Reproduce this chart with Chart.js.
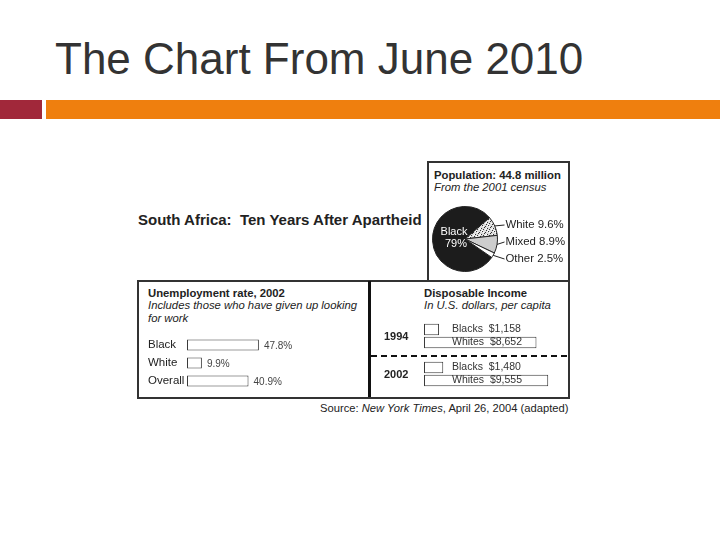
<!DOCTYPE html>
<html>
<head>
<meta charset="utf-8">
<title>The Chart From June 2010</title>
<script src="https://cdn.jsdelivr.net/npm/chart.js"></script>
<style>
  body { margin: 0; background: #fff; font-family: "Liberation Sans", Arial, Helvetica, sans-serif; color: #222; }
  #slide { position: relative; width: 720px; height: 540px; overflow: hidden; }
  .t { position: absolute; white-space: nowrap; line-height: 1; }
  .b { font-weight: bold; }
  .i { font-style: italic; }
  .box { position: absolute; box-sizing: border-box; border: 2px solid #333; }
  canvas { position: absolute; }
</style>
</head>
<body>
<div id="slide">
  <div class="t" style="left:55px;top:37px;font-size:44px;color:#333;">The Chart From June 2010</div>
  <div style="position:absolute;left:0;top:100px;width:42px;height:19px;background:#a1283a;"></div>
  <div style="position:absolute;left:46px;top:100px;width:674px;height:19px;background:#ef7f0e;"></div>

  <div class="t b" style="left:138px;top:212px;font-size:15px;">South Africa: &nbsp;Ten Years After Apartheid</div>

  <div class="box" style="left:427px;top:161px;width:143px;height:121px;"></div>
  <div class="box" style="left:137px;top:280px;width:433px;height:119px;"></div>
  <div style="position:absolute;left:368px;top:281px;width:3px;height:116px;background:#111;"></div>

  <div class="t b" style="left:434px;top:170px;font-size:11.3px;">Population: 44.8 million</div>
  <div class="t i" style="left:434px;top:182px;font-size:11.3px;">From the 2001 census</div>

  <div class="t b" style="left:148px;top:288px;font-size:11.3px;">Unemployment rate, 2002</div>
  <div class="t i" style="left:148px;top:300px;font-size:11.3px;">Includes those who have given up looking</div>
  <div class="t i" style="left:148px;top:313px;font-size:11.3px;">for work</div>

  <div class="t b" style="left:424px;top:288px;font-size:11.3px;">Disposable Income</div>
  <div class="t i" style="left:424px;top:300px;font-size:11.3px;">In U.S. dollars, per capita</div>

  <div class="t" style="left:320px;top:403px;font-size:11.2px;">Source: <span class="i">New York Times</span>, April 26, 2004 (adapted)</div>

  <canvas id="pie" width="140" height="85" style="left:428px;top:195px;"></canvas>
  <canvas id="jobs" width="229" height="54" style="left:140px;top:336px;"></canvas>
  <canvas id="income" width="198" height="76" style="left:371px;top:317px;"></canvas>
</div>

<script>
var popLabels = ["Black", "White", "Mixed", "Other"];
var popShares = [79, 9.6, 8.9, 2.5];

var jobGroups = ["Black", "White", "Overall"];
var jobRates = [47.8, 9.9, 40.9];

var incomeYears = ["1994", "2002"];
var incomeBlacks = [1158, 1480];
var incomeWhites = [8652, 9555];

var FONT = '"Liberation Sans", Arial, sans-serif';

// speckled fill for the "White" slice
function dotPattern() {
	var c = document.createElement("canvas");
	c.width = 6;
	c.height = 6;
	var g = c.getContext("2d");
	g.fillStyle = "#dcdcdc";
	g.fillRect(0, 0, 6, 6);
	g.fillStyle = "#333";
	var dots = [[0, 0], [3, 1], [5, 3], [1, 4], [4, 5], [2, 2]];
	dots.forEach(function (p) { g.fillRect(p[0], p[1], 1, 1); });
	g.fillStyle = "#fff";
	[[1, 1], [4, 3], [0, 5], [3, 4], [5, 0]].forEach(function (p) { g.fillRect(p[0], p[1], 1, 1); });
	return g.createPattern(c, "repeat");
}

var pieLabels = {
	id: "pieLabels",
	afterDatasetsDraw: function (chart) {
		var ctx = chart.ctx;
		var arcs = chart.getDatasetMeta(0).data;
		ctx.save();
		ctx.font = "11px " + FONT;
		ctx.textBaseline = "middle";
		ctx.textAlign = "center";
		ctx.fillStyle = "#fff";
		ctx.fillText(popLabels[0], arcs[0].x - 11, arcs[0].y - 7);
		ctx.fillText(popShares[0] + "%", arcs[0].x - 9, arcs[0].y + 5);

		ctx.textAlign = "left";
		ctx.font = "11.4px " + FONT;
		for (var i = 1; i < arcs.length; i++) {
			var arc = arcs[i];
			var mid = (arc.startAngle + arc.endAngle) / 2;
			var ex = arc.x + Math.cos(mid) * arc.outerRadius;
			var ey = arc.y + Math.sin(mid) * arc.outerRadius;
			var lx = arc.x + arc.outerRadius + 8;
			var ly = arc.y - 14 + (i - 1) * 17;
			ctx.strokeStyle = "#222";
			ctx.lineWidth = 1;
			ctx.beginPath();
			ctx.moveTo(ex, ey);
			ctx.lineTo(lx - 1, ly);
			ctx.stroke();
			ctx.fillStyle = "#222";
			ctx.fillText(popLabels[i] + " " + popShares[i] + "%", lx, ly);
		}
		ctx.restore();
	}
};

new Chart(document.getElementById("pie"), {
	type: "pie",
	data: {
		labels: popLabels,
		datasets: [{
			data: popShares,
			backgroundColor: ["#1c1c1c", dotPattern(), "#cdcdcd", "#ffffff"],
			borderColor: "#222",
			borderWidth: 1
		}]
	},
	options: {
		responsive: false,
		animation: false,
		rotation: 124.6,
		layout: { padding: { left: 4, top: 11, right: 70, bottom: 8 } },
		plugins: { legend: { display: false }, tooltip: { enabled: false } }
	},
	plugins: [pieLabels]
});

var jobLabels = {
	id: "jobLabels",
	afterDatasetsDraw: function (chart) {
		var ctx = chart.ctx;
		var bars = chart.getDatasetMeta(0).data;
		ctx.save();
		ctx.textBaseline = "middle";
		ctx.textAlign = "left";
		for (var i = 0; i < bars.length; i++) {
			ctx.fillStyle = "#222";
			ctx.font = "11.5px " + FONT;
			ctx.fillText(jobGroups[i], chart.chartArea.left - 39, bars[i].y);
			ctx.fillStyle = "#444";
			ctx.font = "10px " + FONT;
			ctx.fillText(jobRates[i] + "%", bars[i].x + 5, bars[i].y + 1);
		}
		ctx.restore();
	}
};

new Chart(document.getElementById("jobs"), {
	type: "bar",
	data: {
		labels: jobGroups,
		datasets: [{
			data: jobRates,
			backgroundColor: "#fff",
			borderColor: "#3a3a3a",
			borderWidth: 1,
			borderSkipped: false,
			categoryPercentage: 1,
			barPercentage: 0.6
		}]
	},
	options: {
		indexAxis: "y",
		responsive: false,
		animation: false,
		layout: { padding: { left: 47, top: 0, right: 0, bottom: 0 } },
		scales: {
			x: { display: false, min: 0, max: 121 },
			y: { display: false }
		},
		plugins: { legend: { display: false }, tooltip: { enabled: false } }
	},
	plugins: [jobLabels]
});

var incomeLabels = {
	id: "incomeLabels",
	afterDatasetsDraw: function (chart) {
		var ctx = chart.ctx;
		var area = chart.chartArea;
		var yScale = chart.scales.y;
		var names = ["Blacks", "Whites"];
		var sets = [incomeBlacks, incomeWhites];
		ctx.save();
		ctx.textBaseline = "middle";

		// dashed separator between the two years
		var sep = (yScale.getPixelForValue(0) + yScale.getPixelForValue(1)) / 2 + 1;
		ctx.strokeStyle = "#111";
		ctx.lineWidth = 2;
		ctx.setLineDash([6, 4]);
		ctx.beginPath();
		ctx.moveTo(0, sep);
		ctx.lineTo(chart.width, sep);
		ctx.stroke();
		ctx.setLineDash([]);

		for (var i = 0; i < incomeYears.length; i++) {
			ctx.fillStyle = "#222";
			ctx.font = "bold 11px " + FONT;
			ctx.textAlign = "left";
			ctx.fillText(incomeYears[i], 13, yScale.getPixelForValue(i) + 1);
		}
		ctx.font = "10.5px " + FONT;
		for (var d = 0; d < 2; d++) {
			var bars = chart.getDatasetMeta(d).data;
			for (var j = 0; j < bars.length; j++) {
				ctx.fillStyle = "#333";
				ctx.fillText(names[d] + "  $" + sets[d][j].toLocaleString("en-US"), area.left + 28, bars[j].y);
			}
		}
		ctx.restore();
	}
};

new Chart(document.getElementById("income"), {
	type: "bar",
	data: {
		labels: incomeYears,
		datasets: [{
			label: "Blacks",
			data: incomeBlacks,
			backgroundColor: "#fff",
			borderColor: "#3a3a3a",
			borderWidth: 1,
			borderSkipped: false,
			categoryPercentage: 0.684,
			barPercentage: 0.88
		}, {
			label: "Whites",
			data: incomeWhites,
			backgroundColor: "#fff",
			borderColor: "#3a3a3a",
			borderWidth: 1,
			borderSkipped: false,
			categoryPercentage: 0.684,
			barPercentage: 0.88
		}]
	},
	options: {
		indexAxis: "y",
		responsive: false,
		animation: false,
		layout: { padding: { left: 53, top: 0, right: 2, bottom: 0 } },
		scales: {
			x: { display: false, min: 0, max: 11000 },
			y: { display: false }
		},
		plugins: { legend: { display: false }, tooltip: { enabled: false } }
	},
	plugins: [incomeLabels]
});
</script>
</body>
</html>
